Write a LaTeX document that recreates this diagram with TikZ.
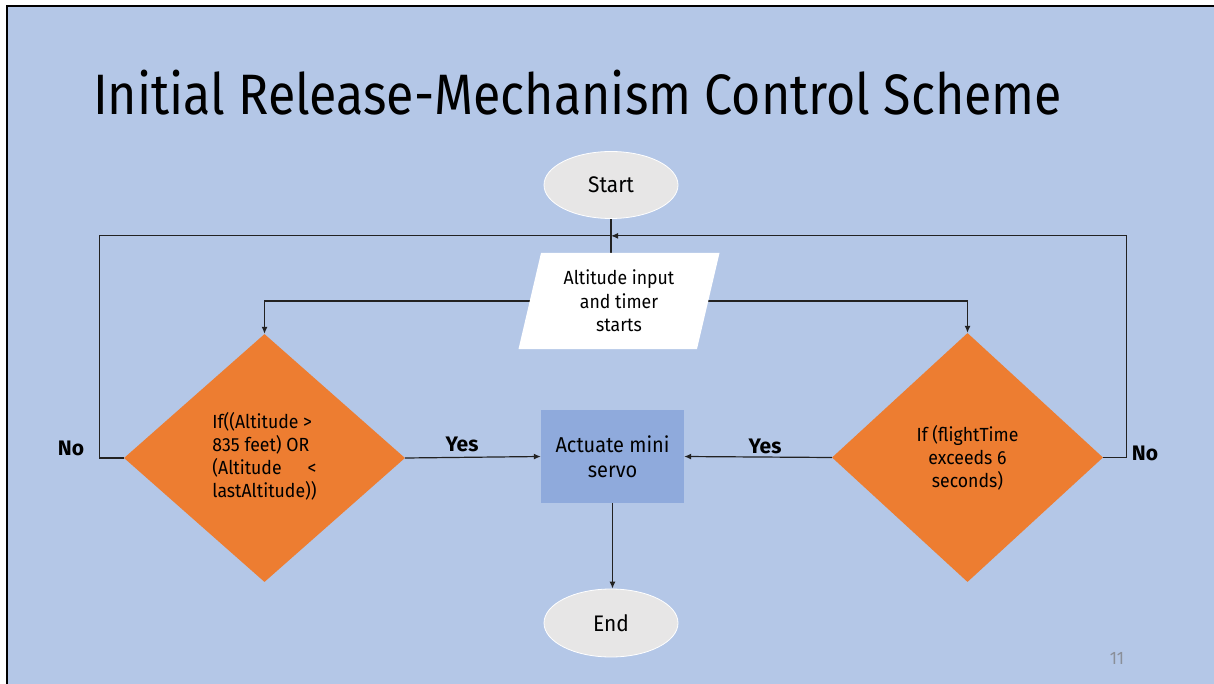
\documentclass[tikz,border=0pt]{standalone}
\usepackage{fontspec}
\setmainfont{Fira Sans}
\newfontfamily\bodyfont[FakeStretch=0.93]{Fira Sans}
\newfontfamily\titlefont[FakeStretch=0.88]{Fira Sans}
\newfontfamily\labelfont{Fira Sans}
\usetikzlibrary{shapes.geometric,arrows.meta,calc}
\pgfdeclarelayer{edges}
\pgfsetlayers{edges,main}
\definecolor{slide}{HTML}{B4C7E7}
\definecolor{dorange}{HTML}{ED7D31}
\definecolor{actblue}{HTML}{8FAADC}
\definecolor{termgray}{HTML}{E7E6E6}
\definecolor{linec}{HTML}{222222}
\definecolor{pagegray}{HTML}{8A8F99}
\tikzset{
  terminal/.style={ellipse, fill=termgray, draw=white, line width=0.8pt,
    minimum width=134pt, minimum height=67pt, inner sep=0pt,
    font=\bodyfont\fontsize{22.5}{26}\selectfont},
  iobox/.style={rectangle, minimum width=201pt, minimum height=96pt, inner sep=0pt,
    align=center, font=\bodyfont\fontsize{19}{23.5}\selectfont,
    path picture={\fill[white]
      ([xshift=22.5pt]path picture bounding box.north west) --
      (path picture bounding box.north east) --
      ([xshift=-22.5pt]path picture bounding box.south east) --
      (path picture bounding box.south west) -- cycle;}},
  decision/.style={diamond, fill=dorange, inner sep=0pt,
    font=\bodyfont\fontsize{19}{23}\selectfont},
  process/.style={rectangle, fill=actblue, minimum width=143pt, minimum height=93pt,
    inner sep=0pt, align=center, font=\bodyfont\fontsize{21.5}{25}\selectfont},
  lbl/.style={inner sep=0pt, font=\labelfont\bfseries\fontsize{21}{24}\selectfont},
  conn/.style={draw=linec, line width=1.2pt},
  arr/.style={conn, -{Latex[length=7pt,width=6pt]}}
}
\begin{document}
\begin{tikzpicture}[x=1pt,y=-1pt]
\useasboundingbox (0,0) rectangle (1214,684);
\begin{pgfonlayer}{edges}
  \fill[white] (0,0) rectangle (1214,684);
  \fill[slide] (7,6) rectangle (1214,684);
  \draw[line width=2.4pt] (7,684) -- (7,6) -- (1214,6);
\end{pgfonlayer}

\node[anchor=base west, inner sep=0pt, font=\titlefont\fontsize{57}{60}\selectfont] (title) at (93,115) {Initial Release-Mechanism Control Scheme};

\node[terminal] (start) at (611,185) {Start};
\node[iobox] (inp) at (619,301) {Altitude input\\and timer\\starts};
\node[decision, minimum width=281pt, minimum height=248pt] (d1) at (264.5,458)
  {\begin{tabular}{@{}l@{}}If((Altitude >\\835 feet) OR\\(Altitude\hfill<\\lastAltitude))\end{tabular}};
\node[decision, minimum width=271pt, minimum height=249pt, align=center] (d2) at (967.5,457.5)
  {If (flightTime\\exceeds 6\\seconds)};
\node[process] (act) at (612.5,456.5) {Actuate mini\\servo};
\node[terminal, minimum height=68pt] (end) at (611,623) {End};

\node[lbl] (yes1) at (462,444) {Yes};
\node[lbl] (yes2) at (765,446) {Yes};
\node[lbl] (no1) at (71,448) {No};
\node[lbl] (no2) at (1145,453) {No};

\node[inner sep=0pt, text=pagegray, font=\bodyfont\fontsize{18}{20}\selectfont] (page) at (1117,658) {11};

\coordinate (join) at ($(start.south)!0.5!(start.south |- inp.north)$);

\begin{pgfonlayer}{edges}
  \draw[conn] (start.south) -- (start.south |- inp.north);
  \draw[arr] (inp.center) -| (d1.north);
  \draw[arr] (inp.center) -| (d2.north);
  \draw[conn] (d1.west) -- ++(-24,0) |- (join);
  \draw[arr] (d2.east) -- ++(23,0) |- (join);
  \draw[arr] (d1.east) -- (act.west);
  \draw[arr] (d2.west) -- (act.east);
  \draw[arr] (act.south) -- (act.south |- end.north);
\end{pgfonlayer}
\end{tikzpicture}
\end{document}
